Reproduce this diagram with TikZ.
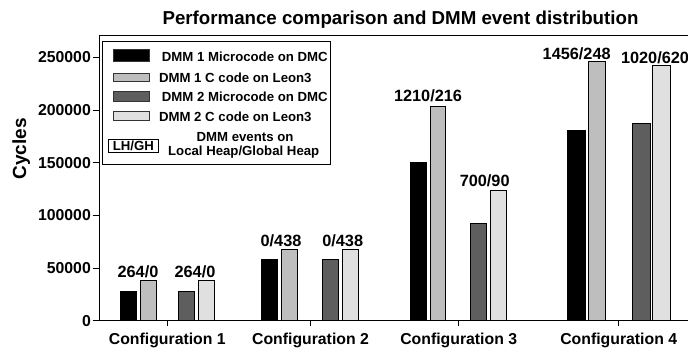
\documentclass[tikz,border=0pt]{standalone}
\usepackage{fontspec}
\setmainfont{Liberation Sans}
\definecolor{dmmA}{gray}{0}
\definecolor{dmmB}{HTML}{BEBEBE}
\definecolor{dmmC}{HTML}{5E5E5E}
\definecolor{dmmD}{HTML}{E0E0E0}
\tikzset{
  txt/.style={inner sep=0pt, anchor=base, font=\bfseries\fontsize{#1}{#1}\selectfont},
  txt/.default=15.8,
  ticklbl/.style={inner sep=0pt, anchor=base east, font=\bfseries\fontsize{15.8}{15.8}\selectfont},
  axisline/.style={line width=0.9pt, black},
  barbox/.style={draw=black, line width=0.8pt},
  swatch/.style={draw=black!80, line width=0.7pt},
}
\newcommand\chartbar[4]{\filldraw[barbox, fill=#4] (#1,320.7) rectangle (#2,#3);}
\begin{document}
\begin{tikzpicture}[x=1pt, y=-1pt]
\useasboundingbox[fill=white] (0,0) rectangle (688,349);

% title
\node[txt=18.7] (title) at (400.5,24) {Performance comparison and DMM event distribution};

% axes and frame
\draw[axisline] (99.3,35.7) -- (688,35.7);
\draw[axisline] (99.3,35.7) -- (99.3,320.7) -- (688,320.7);

% y ticks and labels
\foreach \v [count=\i from 0] in {0,50000,100000,150000,200000,250000} {
  \pgfmathsetmacro\yy{320.7-\i*52.68}
  \draw[axisline] (92.5,\yy) -- (99.3,\yy);
  \node[ticklbl] (ytick\i) at (91,\yy+5.6) {\v};
}
\node[txt=19, rotate=90] (ylabel) at (26,149) {Cycles};

% x ticks and category labels
\foreach \xx/\n in {167.3/1,310.5/2,458.7/3,618.7/4} {
  \draw[axisline] (\xx,320.7) -- (\xx,326);
  \node[txt] (cfg\n) at (\xx,344) {Configuration \n};
}

% bars: Configuration 1
\chartbar{120.7}{136.7}{291.7}{dmmA}
\chartbar{140.7}{156.7}{280}{dmmB}
\chartbar{178.3}{194.3}{291.7}{dmmC}
\chartbar{198.3}{214}{280}{dmmD}
% Configuration 2
\chartbar{261.7}{277.7}{259.3}{dmmA}
\chartbar{281.7}{297.3}{249.3}{dmmB}
\chartbar{322.7}{338.7}{259.3}{dmmC}
\chartbar{342.7}{358.3}{249.3}{dmmD}
% Configuration 3
\chartbar{410.7}{426.7}{162}{dmmA}
\chartbar{430}{445.7}{106}{dmmB}
\chartbar{470.7}{486.7}{223.3}{dmmC}
\chartbar{490.7}{506.7}{190}{dmmD}
% Configuration 4
\chartbar{567.7}{585}{130}{dmmA}
\chartbar{588.3}{605.7}{61.7}{dmmB}
\chartbar{632.7}{650}{123.3}{dmmC}
\chartbar{652.7}{670}{65}{dmmD}

% DMM event counts (LH/GH)
\node[txt=16.3] (ev1a) at (138,277.3) {264/0};
\node[txt=16.3] (ev1b) at (195,277.3) {264/0};
\node[txt=16.3] (ev2a) at (281,246) {0/438};
\node[txt=16.3] (ev2b) at (342.7,246) {0/438};
\node[txt=16.3] (ev3a) at (428,101.7) {1210/216};
\node[txt=16.3] (ev3b) at (484.7,186.7) {700/90};
\node[txt=16.3] (ev4a) at (576.7,59.3) {1456/248};
\node[txt=16.3] (ev4b) at (655,63.3) {1020/620};

% legend
\filldraw[draw=black, line width=0.9pt, fill=white] (102.3,41.7) rectangle (330,164.5);
\filldraw[swatch, fill=dmmA] (113.3,49.3) rectangle (149,61);
\filldraw[swatch, fill=dmmB] (113.3,73) rectangle (149,81.5);
\filldraw[swatch, fill=dmmC] (113.3,91.7) rectangle (149,101.7);
\filldraw[swatch, fill=dmmD] (113.3,111.7) rectangle (149,120.7);
\node[txt=13.2] (leg1) at (244.8,61.7) {DMM 1 Microcode on DMC};
\node[txt=13.2] (leg2) at (235.3,82) {DMM 1 C code on Leon3};
\node[txt=13.2] (leg3) at (244.8,101.7) {DMM 2 Microcode on DMC};
\node[txt=13.2] (leg4) at (235.3,121.7) {DMM 2 C code on Leon3};
\draw[swatch, draw=black] (108.3,139) rectangle (158.3,152.3);
\node[txt=13.2] (leglhgh) at (133.3,150) {LH/GH};
\node[txt=13.2] (leg5) at (245,141.7) {DMM events on};
\node[txt=13.2] (leg6) at (243.7,155.5) {Local Heap/Global Heap};
\end{tikzpicture}
\end{document}
